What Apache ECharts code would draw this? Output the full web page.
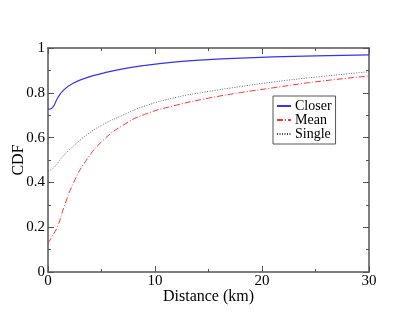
<!DOCTYPE html>
<html lang="en">
<head>
    <meta charset="UTF-8">
    <title>CDF</title>
    <script src="https://cdn.jsdelivr.net/npm/echarts@6/dist/echarts.min.js"></script>
</head>
<body style="margin:0;background:#fff">
<div id="main" style="width:415px;height:321px;"></div>
<script type="text/javascript">
    // distance (km) sample points
    var dist   = [0, 0.4, 0.9, 1.5, 2.4, 3.7, 5.2, 7, 9, 12, 15, 18, 21, 25, 30];
    var closer = [0.727, 0.733, 0.777, 0.814, 0.844, 0.869, 0.888, 0.907, 0.922, 0.938, 0.948, 0.955, 0.960, 0.965, 0.969];
    var mean   = [0.128, 0.16, 0.204, 0.29, 0.40, 0.507, 0.59, 0.655, 0.703, 0.745, 0.776, 0.801, 0.822, 0.849, 0.875];
    var single = [0.452, 0.46, 0.486, 0.522, 0.563, 0.615, 0.66, 0.70, 0.74, 0.78, 0.806, 0.828, 0.848, 0.87, 0.894];
    var xTicks = [0, 10, 20, 30];
    var yTicks = [0, 0.2, 0.4, 0.6, 0.8, 1];

    function pairs(ys) {
        var out = [];
        for (var i = 0; i < dist.length; i++) out.push([dist[i], ys[i]]);
        return out;
    }

    var font = 'Times New Roman, Liberation Serif, serif';
    var frame = '#555';

    function xAx(pos, labels) {
        return {
            type: 'value', position: pos, min: xTicks[0], max: xTicks[xTicks.length - 1], interval: 10,
            axisLine: { show: true, onZero: false, lineStyle: { color: frame, width: 1.5 } },
            axisTick: { show: true, inside: true, length: 6, lineStyle: { color: frame } },
            minorTick: { show: true, splitNumber: 2, length: 3, lineStyle: { color: frame } },
            splitLine: { show: false },
            axisLabel: { show: labels, color: '#000', fontFamily: font, fontSize: 15, margin: 2 },
            name: labels ? 'Distance (km)' : '', nameLocation: 'middle', nameGap: 17, nameMoveOverlap: false,
            nameTextStyle: { color: '#000', fontFamily: font, fontSize: 16 }
        };
    }
    function yAx(pos, labels) {
        return {
            type: 'value', position: pos, min: yTicks[0], max: yTicks[yTicks.length - 1], interval: 0.2,
            axisLine: { show: true, onZero: false, lineStyle: { color: frame, width: 1.5 } },
            axisTick: { show: true, inside: true, length: 6, lineStyle: { color: frame } },
            minorTick: { show: true, splitNumber: 2, length: 3, lineStyle: { color: frame } },
            splitLine: { show: false },
            axisLabel: { show: labels, color: '#000', fontFamily: font, fontSize: 15, margin: 3 },
            name: labels ? 'CDF' : '', nameLocation: 'middle', nameGap: 21, nameRotate: 90, nameMoveOverlap: false,
            nameTextStyle: { color: '#000', fontFamily: font, fontSize: 16 }
        };
    }

    var myChart = echarts.init(document.getElementById('main'));
    myChart.setOption({
        animation: false,
        textStyle: { fontFamily: font },
        grid: { left: 48, right: 46, top: 48, bottom: 49, outerBoundsMode: 'none', containLabel: false },
        xAxis: [xAx('bottom', true), xAx('top', false)],
        yAxis: [yAx('left', true), yAx('right', false)],
        legend: {
            orient: 'vertical', left: 273, top: 96,
            padding: [3, 4, 3, 3], itemGap: 0, itemWidth: 14, itemHeight: 12,
            borderColor: frame, borderWidth: 1,
            itemStyle: { opacity: 0 },
            textStyle: { color: '#000', fontFamily: font, fontSize: 14, lineHeight: 13, padding: [0, 0, 0, -1] },
            data: ['Closer', 'Mean', 'Single']
        },
        series: [
            { name: 'Closer', type: 'line', smooth: 0.5, symbol: 'none', data: pairs(closer),
              color: '#3333ff', lineStyle: { width: 1.2, color: '#3333ff' } },
            { name: 'Mean', type: 'line', smooth: 0.5, symbol: 'none', data: pairs(mean),
              color: '#ff3333', lineStyle: { width: 1, color: '#ff3333', type: [6, 2, 1, 2] } },
            { name: 'Single', type: 'line', smooth: 0.5, symbol: 'none', data: pairs(single),
              color: '#444', lineStyle: { width: 0.8, color: '#444', type: [1, 1.5] } }
        ]
    });
</script>
</body>
</html>
